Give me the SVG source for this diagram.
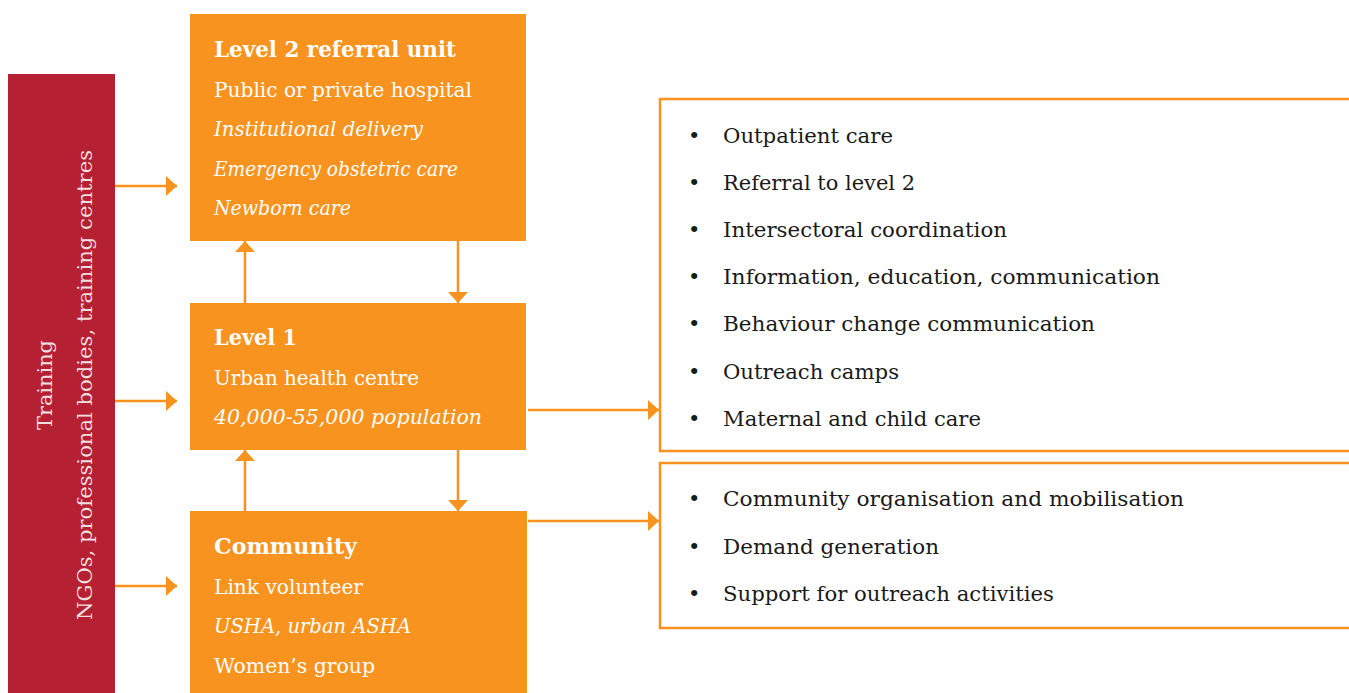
<svg xmlns="http://www.w3.org/2000/svg" width="1349" height="693" viewBox="0 0 1349 693">
<style>
.box{fill:#F7931E}
.t{font-family:"DejaVu Serif","Liberation Serif",serif;font-size:21px;fill:#fff}
.b{font-weight:bold;font-size:21.5px}
.i{font-style:italic}
.l{font-family:"DejaVu Serif","Liberation Serif",serif;font-size:21px;fill:#1a1a1a}
.c{stroke:#F7931E;stroke-width:2.5;fill:none}
.frame{fill:#fff;stroke:#F7931E;stroke-width:2.5}
.v{font-family:"DejaVu Serif","Liberation Serif",serif;font-size:21px;fill:#f3dede}
</style>
<defs>
<marker id="ah" viewBox="0 0 11 20" refX="11" refY="10" markerWidth="11" markerHeight="20" orient="auto" markerUnits="userSpaceOnUse">
<path d="M0,0 L11,10 L0,20 z" fill="#F7931E"/>
</marker>
</defs>
<g id="training">
<rect x="8" y="74" width="107" height="619" fill="#B52033"/>
<text class="v" transform="translate(52,385) rotate(-90)" text-anchor="middle" textLength="90" lengthAdjust="spacingAndGlyphs">Training</text>
<text class="v" transform="translate(92,385) rotate(-90)" text-anchor="middle" textLength="470" lengthAdjust="spacingAndGlyphs">NGOs, professional bodies, training centres</text>
</g>
<g id="level2">
<rect class="box" x="190" y="14" width="336" height="227"/>
<text class="t b" x="214" y="57" textLength="242" lengthAdjust="spacingAndGlyphs">Level 2 referral unit</text>
<text class="t" x="214" y="97" textLength="258" lengthAdjust="spacingAndGlyphs">Public or private hospital</text>
<text class="t i" x="214" y="136" textLength="209" lengthAdjust="spacingAndGlyphs">Institutional delivery</text>
<text class="t i" x="214" y="176" textLength="244" lengthAdjust="spacingAndGlyphs">Emergency obstetric care</text>
<text class="t i" x="214" y="215" textLength="137" lengthAdjust="spacingAndGlyphs">Newborn care</text>
</g>
<g id="level1">
<rect class="box" x="190" y="303" width="336" height="147"/>
<text class="t b" x="214" y="345" textLength="83" lengthAdjust="spacingAndGlyphs">Level 1</text>
<text class="t" x="214" y="385" textLength="205" lengthAdjust="spacingAndGlyphs">Urban health centre</text>
<text class="t i" x="214" y="424" textLength="268" lengthAdjust="spacingAndGlyphs">40,000-55,000 population</text>
</g>
<g id="community">
<rect class="box" x="190" y="511" width="337" height="182"/>
<text class="t b" x="214" y="554" textLength="143" lengthAdjust="spacingAndGlyphs">Community</text>
<text class="t" x="214" y="594" textLength="149" lengthAdjust="spacingAndGlyphs">Link volunteer</text>
<text class="t i" x="214" y="633" textLength="197" lengthAdjust="spacingAndGlyphs">USHA, urban ASHA</text>
<text class="t" x="214" y="673" textLength="161" lengthAdjust="spacingAndGlyphs">Women’s group</text>
</g>
<g id="services1">
<rect class="frame" x="660" y="99" width="700" height="352"/>
<g class="l">
<text x="688" y="143">•</text><text x="723" y="143" textLength="170" lengthAdjust="spacingAndGlyphs">Outpatient care</text>
<text x="688" y="190">•</text><text x="723" y="190" textLength="192" lengthAdjust="spacingAndGlyphs">Referral to level 2</text>
<text x="688" y="237">•</text><text x="723" y="237" textLength="284" lengthAdjust="spacingAndGlyphs">Intersectoral coordination</text>
<text x="688" y="284">•</text><text x="723" y="284" textLength="437" lengthAdjust="spacingAndGlyphs">Information, education, communication</text>
<text x="688" y="331">•</text><text x="723" y="331" textLength="372" lengthAdjust="spacingAndGlyphs">Behaviour change communication</text>
<text x="688" y="379">•</text><text x="723" y="379" textLength="176" lengthAdjust="spacingAndGlyphs">Outreach camps</text>
<text x="688" y="426">•</text><text x="723" y="426" textLength="258" lengthAdjust="spacingAndGlyphs">Maternal and child care</text>
</g>
</g>
<g id="services2">
<rect class="frame" x="660" y="463" width="700" height="165"/>
<g class="l">
<text x="688" y="506">•</text><text x="723" y="506" textLength="461" lengthAdjust="spacingAndGlyphs">Community organisation and mobilisation</text>
<text x="688" y="554">•</text><text x="723" y="554" textLength="216" lengthAdjust="spacingAndGlyphs">Demand generation</text>
<text x="688" y="601">•</text><text x="723" y="601" textLength="331" lengthAdjust="spacingAndGlyphs">Support for outreach activities</text>
</g>
</g>
<g id="connectors">
<line class="c" x1="115" y1="186" x2="177" y2="186" marker-end="url(#ah)"/>
<line class="c" x1="115" y1="401" x2="177" y2="401" marker-end="url(#ah)"/>
<line class="c" x1="115" y1="586" x2="177" y2="586" marker-end="url(#ah)"/>
<line class="c" x1="245" y1="303" x2="245" y2="241" marker-end="url(#ah)"/>
<line class="c" x1="458" y1="241" x2="458" y2="303" marker-end="url(#ah)"/>
<line class="c" x1="245" y1="511" x2="245" y2="450" marker-end="url(#ah)"/>
<line class="c" x1="458" y1="450" x2="458" y2="511" marker-end="url(#ah)"/>
<line class="c" x1="528" y1="410" x2="659" y2="410" marker-end="url(#ah)"/>
<line class="c" x1="528" y1="521" x2="659" y2="521" marker-end="url(#ah)"/>
</g>
</svg>
